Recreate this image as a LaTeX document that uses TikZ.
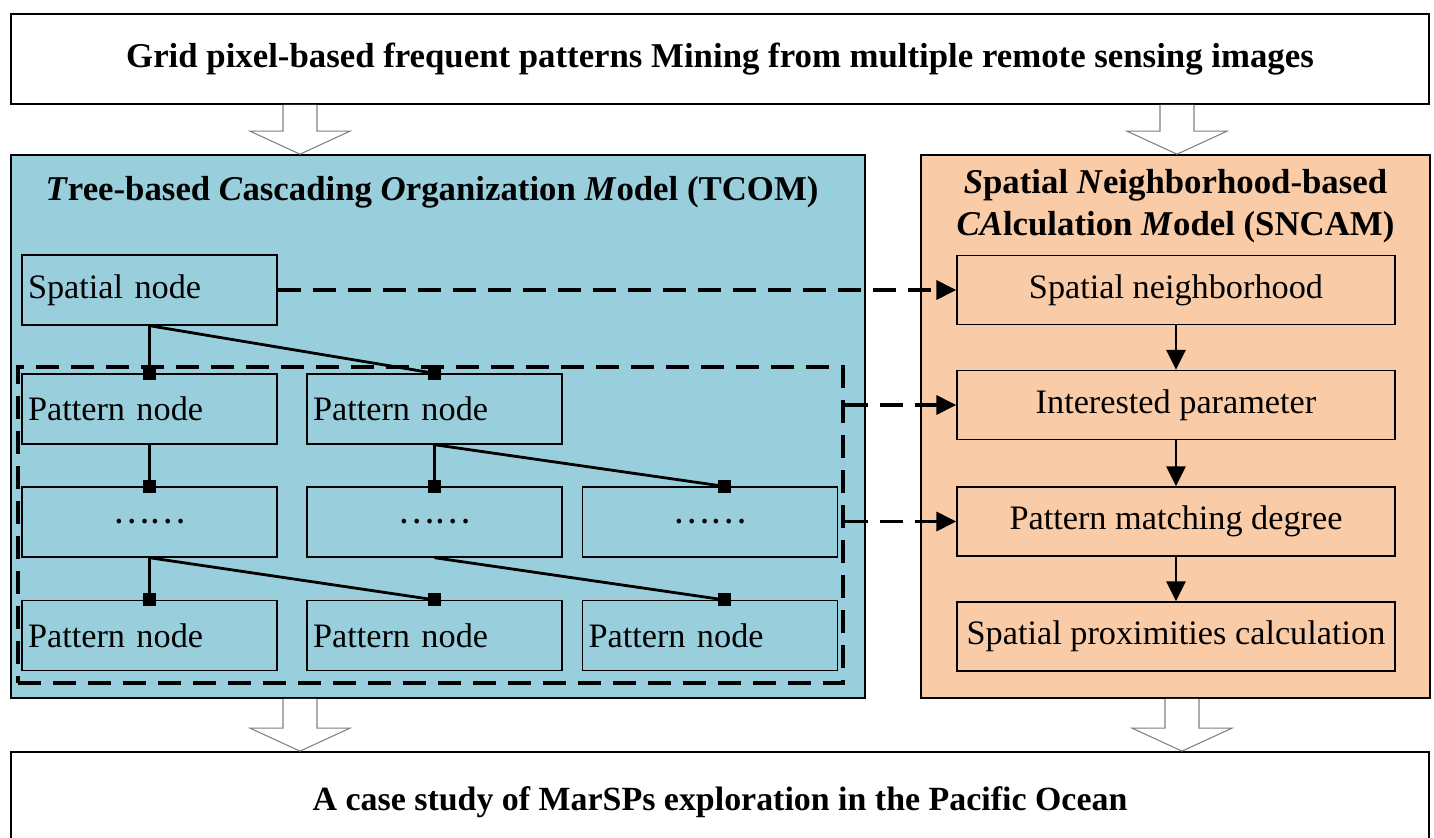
\documentclass[tikz,border=0pt]{standalone}
\usepackage{fontspec}
\setmainfont{Liberation Serif}
\newfontfamily\cjkfont{Noto Sans CJK SC}
\usetikzlibrary{
    arrows.meta,
    positioning,
    calc
}
\definecolor{tcomblue}{RGB}{153,207,220}
\definecolor{sncamorange}{RGB}{249,203,167}

\begin{document}
\begin{tikzpicture}[
    x=0.02cm, y=-0.02cm,
    every node/.style={font=\fontsize{19.5}{23}\selectfont},
    frame/.style={rectangle, draw, line width=1pt, minimum width=28.36cm, minimum height=1.8cm, font=\fontsize{19.8}{23}\selectfont\bfseries},
    panel/.style={rectangle, draw, line width=1pt, minimum height=10.86cm},
    title/.style={font=\fontsize{19.8}{24}\selectfont\bfseries, align=center},
    treenode/.style={rectangle, draw, line width=0.8pt, minimum height=1.4cm, text width=4.86cm, inner sep=0.12cm, align=left},
    calcnode/.style={rectangle, draw, line width=0.8pt, minimum width=8.76cm, minimum height=1.38cm},
    groupbox/.style={rectangle, draw, line width=1.9pt, dash pattern=on 0.46cm off 0.24cm},
    tree/.style={line width=1.6pt},
    flow/.style={line width=1.5pt, -{Triangle[length=0.4cm, width=0.38cm]}},
    link/.style={line width=1.9pt, dash pattern=on 0.46cm off 0.24cm, -{Triangle[length=0.4cm, width=0.38cm]}},
    hollow/.style={draw=gray, fill=white, line width=0.6pt}
]
\useasboundingbox (0,0) rectangle (1434,838);

% Input and output
\node[frame] (grid) at (720,59) {Grid pixel-based frequent patterns Mining from multiple remote sensing images};
\node[frame, minimum height=2cm, font=\fontsize{19.3}{23}\selectfont\bfseries] (case) at (720,802) {A case study of MarSPs exploration in the Pacific Ocean};

% Model panels
\node[panel, fill=tcomblue, minimum width=17.08cm] (tcom) at (438,426.5) {};
\node[panel, fill=sncamorange, minimum width=10.18cm] (sncam) at (1175.5,426.5) {};
\node[title] (tcomtitle) at ($(tcom.north)+(-6,38)$) {\textit{T}ree-based \textit{C}ascading \textit{O}rganization \textit{M}odel (TCOM)};
\node[title] (sncamtitle) at ($(sncam.north)+(0,52)$) {\textit{S}patial \textit{N}eighborhood-based\\ \textit{CA}lculation \textit{M}odel (SNCAM)};

% Tree of nodes
\node[treenode] (spatial) at (149.5,290) {Spatial node};
\node[treenode] (p11) at (149.5,409) {Pattern node};
\node[treenode] (p12) at (434.5,409) {Pattern node};
\node[treenode, align=center] (p21) at (149.5,522) {\cjkfont ……};
\node[treenode, align=center] (p22) at (434.5,522) {\cjkfont ……};
\node[treenode, align=center] (p23) at (710,522) {\cjkfont ……};
\node[treenode] (p31) at (149.5,635.5) {Pattern node};
\node[treenode] (p32) at (434.5,635.5) {Pattern node};
\node[treenode] (p33) at (710,635.5) {Pattern node};
\node[groupbox, minimum width=16.5cm, minimum height=6.32cm] (group) at (430.5,525) {};

\foreach \p/\c/\dx in {spatial/p11/0, spatial/p12/0, p11/p21/0, p12/p22/0, p12/p23/14, p21/p31/0, p21/p32/0, p22/p33/14} {
    \draw[tree] (\p.south) -- ($(\c.north)+(\dx,0)$);
    \fill ($(\c.north)+(\dx,0)$) +(-6.5,-6.5) rectangle +(6.5,6.5);
}

% Calculation steps
\node[calcnode] (neigh) at (1176,290) {Spatial neighborhood};
\node[calcnode] (param) at (1176,405) {Interested parameter};
\node[calcnode] (match) at (1176,521.5) {Pattern matching degree};
\node[calcnode] (prox) at (1176,636.5) {Spatial proximities calculation};

\foreach \a/\b in {neigh/param, param/match, match/prox}
    \draw[flow] (\a) -- (\b);

% Links between the models
\draw[link] (spatial) -- (neigh);
\draw[link] (group.east |- param.west) -- (param.west);
\draw[link] (group.east |- match.west) -- (match.west);

% Block arrows
\foreach \ax/\from/\to in {300/grid/tcom, 1177/grid/sncam, 300/tcom/case, 1182/sncam/case} {
    \coordinate (tail) at (\ax,0 |- \from.south);
    \coordinate (tip) at (\ax,0 |- \to.north);
    \draw[hollow] ($(tail)+(-17,0)$) -- ($(tip)+(-17,-23)$) -- ($(tip)+(-50,-23)$) -- (tip)
        -- ($(tip)+(50,-23)$) -- ($(tip)+(17,-23)$) -- ($(tail)+(17,0)$);
}
\end{tikzpicture}
\end{document}
